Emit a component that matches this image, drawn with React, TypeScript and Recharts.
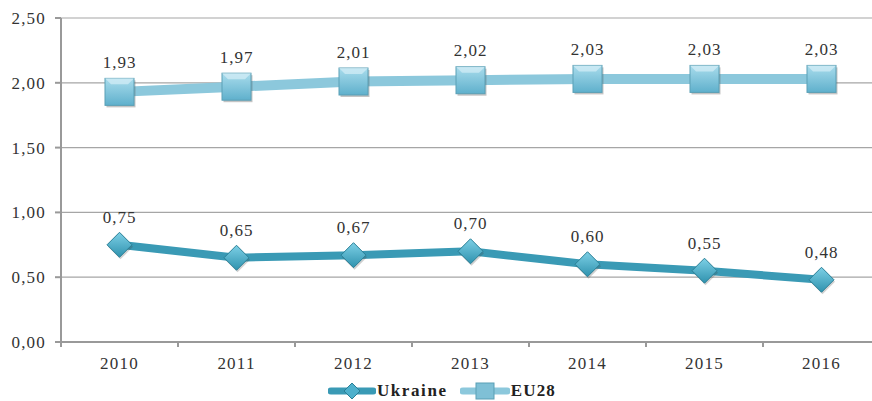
import React from 'react';
import {
  ComposedChart,
  Line,
  XAxis,
  YAxis,
  CartesianGrid,
  Legend,
  LabelList
} from 'recharts';

const years = ['2010', '2011', '2012', '2013', '2014', '2015', '2016'];
const ukraine = [0.75, 0.65, 0.67, 0.7, 0.6, 0.55, 0.48];
const eu28 = [1.93, 1.97, 2.01, 2.02, 2.03, 2.03, 2.03];
const yTicks = [0, 0.5, 1, 1.5, 2, 2.5];

const chartData = years.map((year, i) => ({
  year,
  Ukraine: ukraine[i],
  EU28: eu28[i]
}));

const fmt = (v: number) => v.toFixed(2).replace('.', ',');
const FONT = '"Liberation Serif", "Times New Roman", serif';
const HALF_BAND = 58.5;
const X_TICK_MARGIN = 9;

const DiamondDot = (props: any) => {
  const { cx, cy } = props;
  if (cx == null || cy == null) return null;
  const r = 12.5;
  return (
    <g>
      <polygon
        points={`${cx + 1},${cy - r + 2} ${cx + r + 1},${cy + 2} ${cx + 1},${cy + r + 2} ${cx - r + 1},${cy + 2}`}
        fill="#444"
        opacity={0.25}
      />
      <polygon
        points={`${cx},${cy - r} ${cx + r},${cy} ${cx},${cy + r} ${cx - r},${cy}`}
        fill="url(#diamondGrad)"
        stroke="#2a7f96"
        strokeWidth={1}
      />
    </g>
  );
};

const SquareDot = (props: any) => {
  const { cx, cy } = props;
  if (cx == null || cy == null) return null;
  const w = 29;
  const h = 27;
  return (
    <g>
      <rect x={cx - w / 2 + 1.5} y={cy - h / 2 + 2} width={w} height={h} fill="#555" opacity={0.35} />
      <rect x={cx - w / 2} y={cy - h / 2} width={w} height={h} fill="url(#squareGrad)" stroke="#5a9fb5" strokeWidth={1} />
      <polygon
        points={`${cx - w / 2},${cy - h / 2} ${cx + w / 2},${cy - h / 2} ${cx + w / 2 - 6},${cy - h / 2 + 6} ${cx - w / 2 + 6},${cy - h / 2 + 6}`}
        fill="#d6eef6"
        opacity={0.7}
      />
    </g>
  );
};

// year label plus the small tick marks that sit between categories
const XTick = (props: any) => {
  const { x, y, payload, index, visibleTicksCount } = props;
  const axisY = y - X_TICK_MARGIN - 6;
  const isLast = index === visibleTicksCount - 1;
  return (
    <g>
      <line x1={x - HALF_BAND} x2={x - HALF_BAND} y1={axisY} y2={axisY + 5} stroke="#999" strokeWidth={2} />
      {isLast && (
        <line x1={x + HALF_BAND} x2={x + HALF_BAND} y1={axisY} y2={axisY + 5} stroke="#999" strokeWidth={2} />
      )}
      <text
        x={x}
        y={y}
        dy="0.71em"
        textAnchor="middle"
        fill="#333"
        fontSize={17}
        fontFamily={FONT}
        letterSpacing={1.2}
      >
        {payload.value}
      </text>
    </g>
  );
};

const LegendContent = () => (
  <div
    style={{
      display: 'flex',
      justifyContent: 'center',
      alignItems: 'center',
      fontFamily: FONT,
      fontWeight: 700,
      fontSize: 17,
      color: '#222',
      marginTop: 9,
      paddingLeft: 4
    }}
  >
    <svg width={48} height={20}>
      <line x1={3} y1={10} x2={45} y2={10} stroke="#3a9ab5" strokeWidth={7} strokeLinecap="round" />
      <polygon points="24,2 32,10 24,18 16,10" fill="#4eb0cc" stroke="#2a7f96" />
    </svg>
    <span style={{ marginLeft: 1, letterSpacing: 1.6 }}>Ukraine</span>
    <svg width={50} height={20} style={{ marginLeft: 12 }}>
      <line x1={3} y1={10} x2={47} y2={10} stroke="#8cc8dc" strokeWidth={7} strokeLinecap="round" />
      <rect x={16} y={2} width={18} height={16} fill="#7fc0d6" stroke="#5a9fb5" />
    </svg>
    <span style={{ marginLeft: 1, letterSpacing: 1.2 }}>EU28</span>
  </div>
);

const tickStyle = { fill: '#333', fontSize: 17, fontFamily: FONT, letterSpacing: 1.2 };
const labelStyle = { fill: '#333', fontSize: 17, fontFamily: FONT, letterSpacing: 1 };

export default function App() {
  return (
    <div style={{ position: 'absolute', left: 0, top: 0, width: 872, height: 401, overflow: 'hidden', background: '#fff' }}>
      <ComposedChart
        width={880}
        height={401}
        data={chartData}
        margin={{ top: 18, right: 0, left: 0, bottom: 0 }}
      >
        <defs>
          <linearGradient id="diamondGrad" x1="0" y1="0" x2="0" y2="1">
            <stop offset="0%" stopColor="#7dd0e6" />
            <stop offset="100%" stopColor="#2f92ae" />
          </linearGradient>
          <linearGradient id="squareGrad" x1="0" y1="0" x2="0" y2="1">
            <stop offset="0%" stopColor="#a9dcec" />
            <stop offset="100%" stopColor="#5fb0cc" />
          </linearGradient>
        </defs>
        <CartesianGrid vertical={false} stroke="#a6a6a6" strokeWidth={1.2} />
        <XAxis
          dataKey="year"
          height={30}
          stroke="#999"
          strokeWidth={2}
          tickLine={false}
          tick={<XTick />}
          tickMargin={X_TICK_MARGIN}
          interval={0}
          padding={{ left: HALF_BAND, right: HALF_BAND }}
        />
        <YAxis
          width={61}
          domain={[0, 2.5]}
          ticks={yTicks}
          tickFormatter={fmt}
          stroke="#999"
          strokeWidth={2}
          tickSize={6}
          tick={tickStyle}
          tickMargin={9}
        />
        <Legend verticalAlign="bottom" height={29} content={<LegendContent />} />
        <Line
          dataKey="Ukraine"
          stroke="#3a9ab5"
          strokeWidth={8}
          dot={<DiamondDot />}
          activeDot={false}
          isAnimationActive={false}
        >
          <LabelList
            dataKey="Ukraine"
            position="top"
            offset={22}
            formatter={(v: any) => fmt(Number(v))}
            style={labelStyle}
          />
        </Line>
        <Line
          dataKey="EU28"
          stroke="#8cc8dc"
          strokeWidth={10}
          dot={<SquareDot />}
          activeDot={false}
          isAnimationActive={false}
        >
          <LabelList
            dataKey="EU28"
            position="top"
            offset={24}
            formatter={(v: any) => fmt(Number(v))}
            style={labelStyle}
          />
        </Line>
      </ComposedChart>
    </div>
  );
}
